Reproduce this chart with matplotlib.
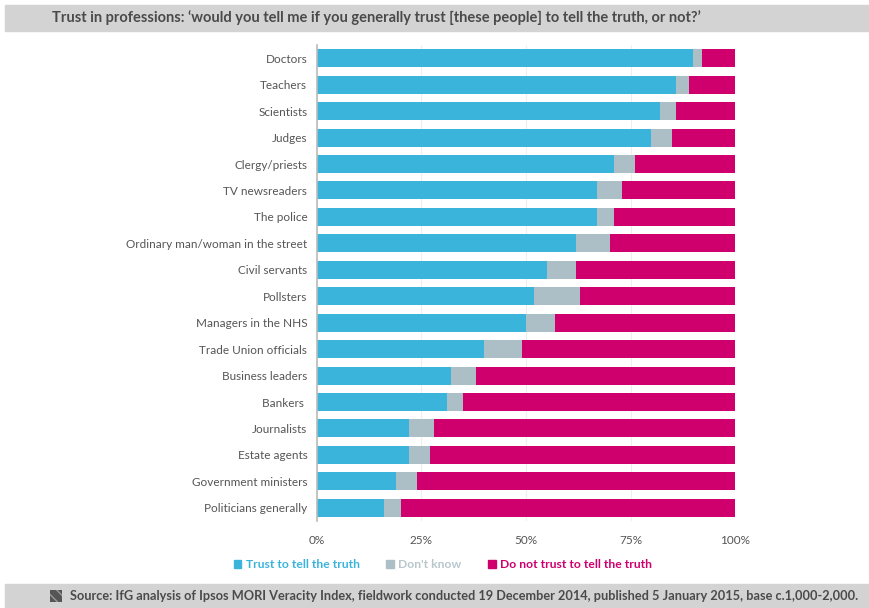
import matplotlib
matplotlib.use("Agg")
import matplotlib.pyplot as plt
from matplotlib.patches import Patch, Rectangle

# ---- Data (per cent) ----
professions = [
    "Doctors", "Teachers", "Scientists", "Judges", "Clergy/priests",
    "TV newsreaders", "The police", "Ordinary man/woman in the street",
    "Civil servants", "Pollsters", "Managers in the NHS",
    "Trade Union officials", "Business leaders", "Bankers ", "Journalists",
    "Estate agents", "Government ministers", "Politicians generally",
]
trust = [90, 86, 82, 80, 71, 67, 67, 62, 55, 52, 50, 40, 32, 31, 22, 22, 19, 16]
dont_know = [2, 3, 4, 5, 5, 6, 4, 8, 7, 11, 7, 9, 6, 4, 6, 5, 5, 4]
not_trust = [8, 11, 14, 15, 24, 27, 29, 30, 38, 37, 43, 51, 62, 65, 72, 73, 76, 80]

xticks = [0, 25, 50, 75, 100]
xtick_labels = ["0%", "25%", "50%", "75%", "100%"]
series_names = ["Trust to tell the truth", "Don't know", "Do not trust to tell the truth"]

BLUE = "#3bb4dc"
GREY = "#acbec6"
PINK = "#cf006d"
TXT = "#555555"

plt.rcParams["font.family"] = ["Lato", "DejaVu Sans"]

fig = plt.figure(figsize=(8.7, 6.08), dpi=100)
ax = fig.add_axes([317 / 870, 1 - 521 / 608, (735 - 317) / 870, (521 - 45) / 608])

ypos = list(range(len(professions)))
left2 = [t + d for t, d in zip(trust, dont_know)]
h = 0.68
ax.barh(ypos, trust, height=h, color=BLUE, zorder=2)
ax.barh(ypos, dont_know, left=trust, height=h, color=GREY, zorder=2)
ax.barh(ypos, not_trust, left=left2, height=h, color=PINK, zorder=2)

ax.set_ylim(len(professions) - 0.5, -0.5)
ax.set_xlim(0, 100)
ax.set_yticks(ypos)
ax.set_yticklabels(professions, fontsize=8.5, color=TXT)
ax.set_xticks(xticks)
ax.set_xticklabels(xtick_labels, fontsize=8.5, color=TXT)
ax.tick_params(axis="both", length=0)
ax.tick_params(axis="y", pad=7)
ax.tick_params(axis="x", pad=10)
for s in ["top", "right", "bottom"]:
    ax.spines[s].set_visible(False)
ax.spines["left"].set_color("#bbbbbb")
ax.spines["left"].set_linewidth(1.2)
ax.grid(True, axis="x", color="#eeeeee", linewidth=0.8, zorder=0)

# legend with coloured text
handles = [Patch(color=c) for c in (BLUE, GREY, PINK)]
leg = fig.legend(handles, series_names, loc="center", ncol=3,
                 bbox_to_anchor=(443 / 870, 1 - 565 / 608), frameon=False,
                 handlelength=0.6, handleheight=0.6, handletextpad=0.4,
                 columnspacing=2.2, prop={"size": 8.7, "weight": "bold"})
for t, c in zip(leg.get_texts(), (BLUE, "#b9c7cd", PINK)):
    t.set_color(c)

# header and footer bands
fig.patches.append(Rectangle((5 / 870, 1 - 31 / 608), 1, 26 / 608,
                             transform=fig.transFigure, color="#d3d3d3", zorder=0))
fig.patches.append(Rectangle((5 / 870, 0), 1, 24 / 608,
                             transform=fig.transFigure, color="#d3d3d3", zorder=0))
fig.text(52 / 870, 1 - 18 / 608,
         "Trust in professions: \u2018would you tell me if you generally trust "
         "[these people] to tell the truth, or not?\u2019",
         fontsize=10.5, fontweight="bold", color="#4a4a4a", va="center")
fig.patches.append(Rectangle((50 / 870, 1 - 602 / 608), 12 / 870, 12 / 608,
                             transform=fig.transFigure, facecolor="#555555",
                             hatch="\\\\\\", edgecolor="#999999", linewidth=0))
fig.text(70 / 870, 1 - 596 / 608,
         "Source: IfG analysis of Ipsos MORI Veracity Index, fieldwork conducted "
         "19 December 2014, published 5 January 2015, base c.1,000-2,000.",
         fontsize=9.2, fontweight="bold", color="#4a4a4a", va="center")

fig.savefig("out.png", dpi=100)
